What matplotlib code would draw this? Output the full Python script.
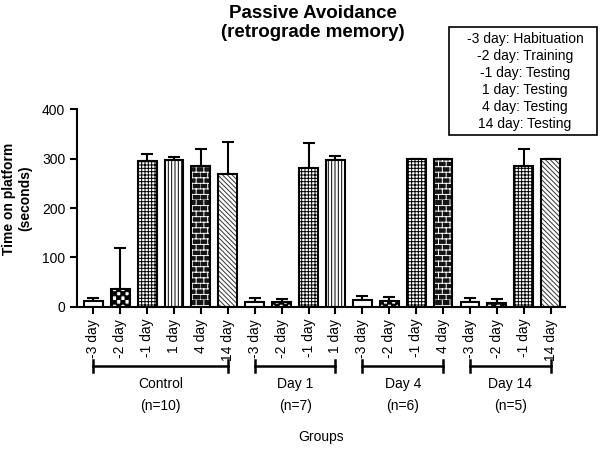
import warnings
import numpy as np
import matplotlib
matplotlib.use("Agg")
import matplotlib.pyplot as plt
import matplotlib.hatch as mhatch
from matplotlib.path import Path
from matplotlib.patches import Rectangle
from matplotlib.transforms import blended_transform_factory

warnings.filterwarnings("ignore")

# ---------------------------
# Data
# ---------------------------
groups = ["Control", "Day 1", "Day 4", "Day 14"]
group_n = ["(n=10)", "(n=7)", "(n=6)", "(n=5)"]
group_days = [
    ["-3 day", "-2 day", "-1 day", "1 day", "4 day", "14 day"],
    ["-3 day", "-2 day", "-1 day", "1 day"],
    ["-3 day", "-2 day", "-1 day", "4 day"],
    ["-3 day", "-2 day", "-1 day", "14 day"],
]
control_mean = [12, 36, 295, 297, 285, 268]
control_sem = [7, 84, 15, 6, 34, 65]
day1_mean = [11, 10, 281, 297]
day1_sem = [8, 6, 50, 8]
day4_mean = [14, 13, 300, 300]
day4_sem = [8, 7, 0, 0]
day14_mean = [11, 9, 284, 300]
day14_sem = [7, 7, 35, 0]
yticks = [0, 100, 200, 300, 400]
legend_lines = ["-3 day: Habituation", "-2 day: Training", "-1 day: Testing",
                "1 day: Testing", "4 day: Testing", "14 day: Testing"]

means = control_mean + day1_mean + day4_mean + day14_mean
sems = control_sem + day1_sem + day4_sem + day14_sem
labels = [d for g in group_days for d in g]


# ---------------------------
# Extra hatch patterns: checkerboard ('c') and brick ('b')
# ---------------------------
class CheckerHatch(mhatch.HatchPatternBase):
    filled = True

    def __init__(self, hatch, density):
        self.n = 2 * ((hatch.count('c') * density) // 2)
        self.num_vertices = (self.n * self.n // 2) * 5

    def set_vertices_and_codes(self, vertices, codes):
        s = 1.0 / self.n
        k = 0
        for i in range(self.n):
            for j in range(self.n):
                if (i + j) % 2 == 0:
                    x, y = i * s, j * s
                    vertices[k:k + 5] = [(x, y), (x + s, y), (x + s, y + s), (x, y + s), (x, y)]
                    codes[k:k + 5] = [Path.MOVETO, Path.LINETO, Path.LINETO, Path.LINETO, Path.CLOSEPOLY]
                    k += 5


class BrickHatch(mhatch.HatchPatternBase):
    def __init__(self, hatch, density):
        self.n = 2 * ((hatch.count('b') * density) // 2)
        self.m = self.n * 3 // 4
        self.num_vertices = 2 * self.n + 2 * self.n * self.m

    def set_vertices_and_codes(self, vertices, codes):
        h = 1.0 / self.n
        w = 1.0 / self.m
        k = 0
        for i in range(self.n):
            y = i * h
            vertices[k:k + 2] = [(0, y), (1, y)]
            codes[k:k + 2] = [Path.MOVETO, Path.LINETO]
            k += 2
            off = w / 2 if i % 2 else 0
            for j in range(self.m):
                x = j * w + off
                vertices[k:k + 2] = [(x, y), (x, y + h)]
                codes[k:k + 2] = [Path.MOVETO, Path.LINETO]
                k += 2


mhatch._hatch_types.extend([CheckerHatch, BrickHatch])

# face colour, hatch, hatch colour per day
styles = {
    "-3 day": ("white", None, "black"),
    "-2 day": ("white", "cccc", "black"),
    "-1 day": ("white", "+++++", "black"),
    "1 day": ("white", "|||||", "black"),
    "4 day": ("#151515", "bbb", "white"),
    "14 day": ("white", "\\" * 7, "#333333"),
}

plt.rcParams["font.family"] = "Liberation Sans"
plt.rcParams["hatch.linewidth"] = 0.7

fig = plt.figure(figsize=(6, 4.51), dpi=100)
ax = fig.add_axes([0.1283, 0.3193, 0.8133, 0.439])

x = np.arange(len(means))
for xi, m, lab in zip(x, means, labels):
    face, hatch, hc = styles[lab]
    ax.bar(xi, m, width=0.7, color=face, edgecolor=hc, linewidth=0, hatch=hatch, zorder=2)
ax.bar(x, means, width=0.7, fill=False, edgecolor="black", linewidth=1.5, zorder=3)
ax.errorbar(x, means, yerr=[np.zeros(len(sems)), sems], fmt="none", ecolor="black",
            elinewidth=1.5, capsize=4, capthick=1.5, zorder=1)

ax.set_xlim(-0.606, 17.53)
ax.set_ylim(0, 400)
ax.set_yticks(yticks)
ax.set_xticks(x)
ax.set_xticklabels(labels, rotation=90)
ax.tick_params(axis="both", labelsize=10, length=5, width=1.5, direction="out")
for s in ["top", "right"]:
    ax.spines[s].set_visible(False)
for s in ["left", "bottom"]:
    ax.spines[s].set_linewidth(1.5)

# group brackets under the axis
trans = blended_transform_factory(ax.transData, ax.transAxes)
start = 0
for g, n, days in zip(groups, group_n, group_days):
    a, b = x[start], x[start + len(days) - 1]
    ax.plot([a, b], [-0.298, -0.298], color="black", lw=1.8, transform=trans, clip_on=False)
    ax.plot([a, a], [-0.27, -0.326], color="black", lw=1.8, transform=trans, clip_on=False)
    ax.plot([b, b], [-0.27, -0.326], color="black", lw=1.8, transform=trans, clip_on=False)
    ax.text((a + b) / 2, -0.389, g, ha="center", va="center", fontsize=10, transform=trans)
    ax.text((a + b) / 2, -0.50, n, ha="center", va="center", fontsize=10, transform=trans)
    start += len(days)

fig.text(0.535, 0.03, "Groups", ha="center", va="center", fontsize=10)
fig.text(0.028, 0.56, "Time on platform\n(seconds)", rotation=90, ha="center", va="center",
         fontsize=10, fontweight="bold", multialignment="center")
fig.text(0.522, 0.949, "Passive Avoidance\n(retrograde memory)", ha="center", va="center",
         fontsize=13.5, fontweight="bold", linespacing=1.12)

# day legend box
fig.patches.append(Rectangle((449 / 600, 1 - 135 / 451), 148 / 600, 108 / 451, fill=False,
                             edgecolor="black", linewidth=1.2, transform=fig.transFigure))
fig.text(525 / 600, 1 - 81.5 / 451, "\n".join(legend_lines), ha="center", va="center",
         fontsize=10, multialignment="center", linespacing=1.28)

fig.savefig("out.png", dpi=100)
